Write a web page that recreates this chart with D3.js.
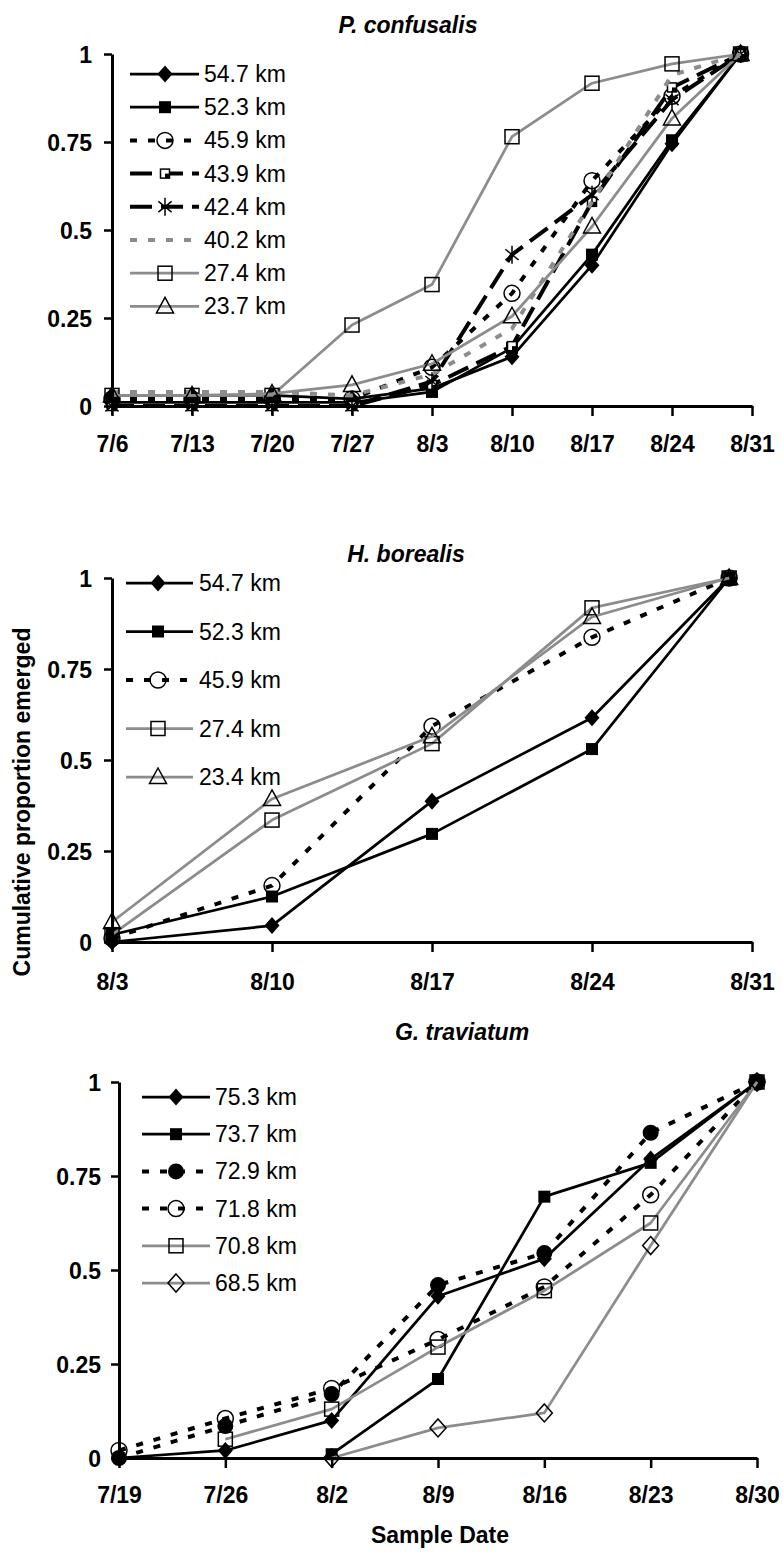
<!DOCTYPE html>
<html>
<head>
<meta charset="utf-8">
<script src="https://cdn.jsdelivr.net/npm/d3@7"></script>
<style>
  body { margin: 0; background: #fff; }
  svg { display: block; font-family: Arial, "Liberation Sans", sans-serif; }
</style>
</head>
<body>
<svg id="chart" width="783" height="1552"></svg>
<script>
// ---------- data ----------
// P. confusalis
const pcDates = ["7/6", "7/13", "7/20", "7/27", "8/3", "8/10", "8/17", "8/24", "8/30"];
const pcTicks = ["7/6", "7/13", "7/20", "7/27", "8/3", "8/10", "8/17", "8/24", "8/31"];
const pcNames = ["54.7 km", "52.3 km", "45.9 km", "43.9 km", "42.4 km", "40.2 km", "27.4 km", "23.7 km"];
const pc547 = [0.03, 0.03, 0.03, 0.02, 0.05, 0.14, 0.40, 0.745, 1];
const pc523 = [0.01, 0.01, 0.01, 0.01, 0.04, 0.165, 0.43, 0.755, 1];
const pc459 = [0.02, 0.02, 0.02, 0.02, 0.11, 0.32, 0.64, 0.88, 1];
const pc439 = [0.0, 0.0, 0.0, 0.0, 0.06, 0.17, 0.58, 0.905, 1];
const pc424 = [0.0, 0.0, 0.0, 0.0, 0.07, 0.43, 0.60, 0.87, 1];
const pc402 = [0.04, 0.04, 0.04, 0.03, 0.09, 0.22, 0.58, 0.94, 1];
const pc274 = [0.03, 0.03, 0.03, 0.23, 0.345, 0.765, 0.917, 0.972, 1];
const pc237 = [0.03, 0.03, 0.035, 0.06, 0.12, 0.255, 0.51, 0.817, 1];

// H. borealis
const hbDates = ["8/3", "8/10", "8/17", "8/24", "8/30"];
const hbTicks = ["8/3", "8/10", "8/17", "8/24", "8/31"];
const hbNames = ["54.7 km", "52.3 km", "45.9 km", "27.4 km", "23.4 km"];
const hb547 = [0.0, 0.045, 0.387, 0.616, 1];
const hb523 = [0.02, 0.125, 0.297, 0.53, 1];
const hb459 = [0.01, 0.155, 0.593, 0.837, 1];
const hb274 = [0.02, 0.335, 0.545, 0.918, 1];
const hb234 = [0.055, 0.393, 0.565, 0.893, 1];

// G. traviatum
const gtDates = ["7/19", "7/26", "8/2", "8/9", "8/16", "8/23", "8/30"];
const gtTicks = ["7/19", "7/26", "8/2", "8/9", "8/16", "8/23", "8/30"];
const gtNames = ["75.3 km", "73.7 km", "72.9 km", "71.8 km", "70.8 km", "68.5 km"];
const gt753 = [0.0, 0.02, 0.10, 0.43, 0.53, 0.795, 1];
const gt737 = [null, null, 0.01, 0.21, 0.695, 0.785, 1];
const gt729 = [0.0, 0.085, 0.17, 0.46, 0.545, 0.865, 1];
const gt718 = [0.02, 0.105, 0.185, 0.315, 0.455, 0.70, 1];
const gt708 = [null, 0.05, 0.13, 0.295, 0.445, 0.625, 1];
const gt685 = [null, null, 0.0, 0.08, 0.12, 0.565, 1];

const yTicks = [0, 0.25, 0.5, 0.75, 1];
const yTickLabels = ["0", "0.25", "0.5", "0.75", "1"];

// ---------- styles ----------
const GRAY = "#8c8c8c";
const lineStyles = {
  blackSolid:    { stroke: "#000", width: 2.75, dash: null },
  blackDot:      { stroke: "#000", width: 4, dash: "7,11" },
  blackLongDash: { stroke: "#000", width: 4, dash: "22,9" },
  grayDot:       { stroke: GRAY, width: 4, dash: "7,11" },
  graySolid:     { stroke: GRAY, width: 2.75, dash: null }
};

const parseDate = d3.timeParse("%m/%d");
const fmtDate = d3.timeFormat("%-m/%-d");

const svg = d3.select("#chart");

// ---------- marker shapes ----------
function drawMarker(g, type, x, y) {
  const k = "#000";
  switch (type) {
    case "diamond":
      g.append("path").attr("d", `M${x},${y - 8.5}L${x + 7.5},${y}L${x},${y + 8.5}L${x - 7.5},${y}Z`)
        .attr("fill", k);
      break;
    case "diamondOpen":
      g.append("path").attr("d", `M${x},${y - 9}L${x + 8},${y}L${x},${y + 9}L${x - 8},${y}Z`)
        .attr("fill", "none").attr("stroke", k).attr("stroke-width", 1.5);
      break;
    case "square":
      g.append("rect").attr("x", x - 6).attr("y", y - 6).attr("width", 12).attr("height", 12)
        .attr("fill", k);
      break;
    case "squareOpen":
      g.append("rect").attr("x", x - 7).attr("y", y - 7).attr("width", 14).attr("height", 14)
        .attr("fill", "none").attr("stroke", k).attr("stroke-width", 1.5);
      break;
    case "squareSmall":
      g.append("rect").attr("x", x - 4.5).attr("y", y - 4.5).attr("width", 9).attr("height", 9)
        .attr("fill", "#fff").attr("stroke", k).attr("stroke-width", 1.5);
      g.append("rect").attr("x", x).attr("y", y).attr("width", 4.5).attr("height", 4.5).attr("fill", k);
      break;
    case "circleOpen":
      g.append("circle").attr("cx", x).attr("cy", y).attr("r", 8)
        .attr("fill", "none").attr("stroke", k).attr("stroke-width", 1.5);
      break;
    case "circle":
      g.append("circle").attr("cx", x).attr("cy", y).attr("r", 8).attr("fill", k);
      break;
    case "triangleOpen":
      g.append("path").attr("d", `M${x},${y - 9}L${x + 8.5},${y + 6.5}L${x - 8.5},${y + 6.5}Z`)
        .attr("fill", "none").attr("stroke", k).attr("stroke-width", 1.5);
      break;
    case "asterisk": {
      const r = 9, dx = r * Math.cos(Math.PI / 6) * 0.85, dy = r * 0.6;
      g.append("path")
        .attr("d", `M${x},${y - r}L${x},${y + r}M${x - dx},${y - dy}L${x + dx},${y + dy}M${x - dx},${y + dy}L${x + dx},${y - dy}`)
        .attr("fill", "none").attr("stroke", k).attr("stroke-width", 1.5);
      break;
    }
    default:
      break;
  }
}

// ---------- one panel ----------
function drawPanel(p) {
  const g = svg.append("g");
  const x = d3.scaleTime()
    .domain([parseDate(p.ticks[0]), parseDate(p.ticks[p.ticks.length - 1])])
    .range(p.xRange);
  const y = d3.scaleLinear().domain([0, 1]).range(p.yRange);

  // title
  g.append("text")
    .attr("x", p.titleX).attr("y", p.titleY)
    .attr("text-anchor", "middle")
    .attr("font-size", 23).attr("font-weight", "bold").attr("font-style", "italic")
    .text(p.title);

  // series: line first, then its markers on top
  const dates = p.dates.map(parseDate);
  p.series.forEach(s => {
    const st = lineStyles[s.line];
    const pts = s.values.map((v, i) => ({ d: dates[i], v }));
    const line = d3.line()
      .defined(d => d.v !== null)
      .x(d => x(d.d)).y(d => y(d.v));
    g.append("path")
      .datum(pts)
      .attr("d", line)
      .attr("fill", "none")
      .attr("stroke", st.stroke)
      .attr("stroke-width", st.width)
      .attr("stroke-dasharray", st.dash)
      .attr("stroke-linejoin", "round");
    const mg = g.append("g");
    pts.filter(d => d.v !== null).forEach(d => drawMarker(mg, s.marker, x(d.d), y(d.v)));
  });

  // axes
  const yAxis = d3.axisLeft(y)
    .tickValues(yTicks)
    .tickFormat((d, i) => yTickLabels[i])
    .tickSize(8).tickSizeOuter(0).tickPadding(p.yPad);
  const ya = g.append("g").attr("transform", `translate(${p.xRange[0]},0)`).call(yAxis);

  const xAxis = d3.axisBottom(x)
    .tickValues(p.ticks.map(parseDate))
    .tickFormat(fmtDate)
    .tickSize(10).tickSizeOuter(0).tickPadding(p.xPad);
  const xa = g.append("g").attr("transform", `translate(0,${p.yRange[0]})`).call(xAxis);

  [ya, xa].forEach(a => {
    a.select(".domain").attr("stroke", "#000").attr("stroke-width", 3);
    a.selectAll(".tick line").attr("stroke", "#000").attr("stroke-width", 2.5);
    a.selectAll(".tick text")
      .attr("font-family", "Arial, 'Liberation Sans', sans-serif")
      .attr("font-size", 23).attr("font-weight", "bold").attr("fill", "#000");
  });
  ya.selectAll(".tick text").attr("dy", "0.36em");

  // legend
  const lg = g.append("g");
  p.series.forEach((s, i) => {
    const st = lineStyles[s.line];
    const ry = p.legend.y0 + i * p.legend.step;
    lg.append("line")
      .attr("x1", p.legend.x0).attr("x2", p.legend.x1)
      .attr("y1", ry).attr("y2", ry)
      .attr("stroke", st.stroke).attr("stroke-width", st.width)
      .attr("stroke-dasharray", st.dash);
    drawMarker(lg, s.marker, p.legend.mx, ry);
    lg.append("text")
      .attr("x", p.legend.tx).attr("y", ry + 8)
      .attr("font-size", 23)
      .text(s.name);
  });
}

// ---------- panels ----------
drawPanel({
  title: "P. confusalis", titleX: 408, titleY: 33,
  dates: pcDates, ticks: pcTicks,
  xRange: [112, 752], yRange: [406, 54],
  yPad: 12, xPad: 20,
  legend: { x0: 130, x1: 199, mx: 165, tx: 204, y0: 74, step: 33.2 },
  series: [
    { name: pcNames[0], values: pc547, line: "blackSolid", marker: "diamond" },
    { name: pcNames[1], values: pc523, line: "blackSolid", marker: "square" },
    { name: pcNames[2], values: pc459, line: "blackDot", marker: "circleOpen" },
    { name: pcNames[3], values: pc439, line: "blackLongDash", marker: "squareSmall" },
    { name: pcNames[4], values: pc424, line: "blackLongDash", marker: "asterisk" },
    { name: pcNames[5], values: pc402, line: "grayDot", marker: "none" },
    { name: pcNames[6], values: pc274, line: "graySolid", marker: "squareOpen" },
    { name: pcNames[7], values: pc237, line: "graySolid", marker: "triangleOpen" }
  ]
});

drawPanel({
  title: "H. borealis", titleX: 406, titleY: 562,
  dates: hbDates, ticks: hbTicks,
  xRange: [112, 752], yRange: [942, 578],
  yPad: 12, xPad: 22,
  legend: { x0: 126, x1: 193, mx: 158, tx: 199, y0: 583, step: 48.5 },
  series: [
    { name: hbNames[0], values: hb547, line: "blackSolid", marker: "diamond" },
    { name: hbNames[1], values: hb523, line: "blackSolid", marker: "square" },
    { name: hbNames[2], values: hb459, line: "blackDot", marker: "circleOpen" },
    { name: hbNames[3], values: hb274, line: "graySolid", marker: "squareOpen" },
    { name: hbNames[4], values: hb234, line: "graySolid", marker: "triangleOpen" }
  ]
});

drawPanel({
  title: "G. traviatum", titleX: 462, titleY: 1040,
  dates: gtDates, ticks: gtTicks,
  xRange: [119, 757], yRange: [1458, 1082],
  yPad: 10, xPad: 19,
  legend: { x0: 142, x1: 210, mx: 176, tx: 215, y0: 1097, step: 37.2 },
  series: [
    { name: gtNames[0], values: gt753, line: "blackSolid", marker: "diamond" },
    { name: gtNames[1], values: gt737, line: "blackSolid", marker: "square" },
    { name: gtNames[2], values: gt729, line: "blackDot", marker: "circle" },
    { name: gtNames[3], values: gt718, line: "blackDot", marker: "circleOpen" },
    { name: gtNames[4], values: gt708, line: "graySolid", marker: "squareOpen" },
    { name: gtNames[5], values: gt685, line: "graySolid", marker: "diamondOpen" }
  ]
});

// shared axis titles
svg.append("text")
  .attr("transform", "translate(22,802) rotate(-90)")
  .attr("text-anchor", "middle").attr("dominant-baseline", "central")
  .attr("font-size", 23).attr("font-weight", "bold")
  .text("Cumulative proportion emerged");

svg.append("text")
  .attr("x", 440).attr("y", 1543)
  .attr("text-anchor", "middle")
  .attr("font-size", 23).attr("font-weight", "bold")
  .text("Sample Date");
</script>
</body>
</html>
